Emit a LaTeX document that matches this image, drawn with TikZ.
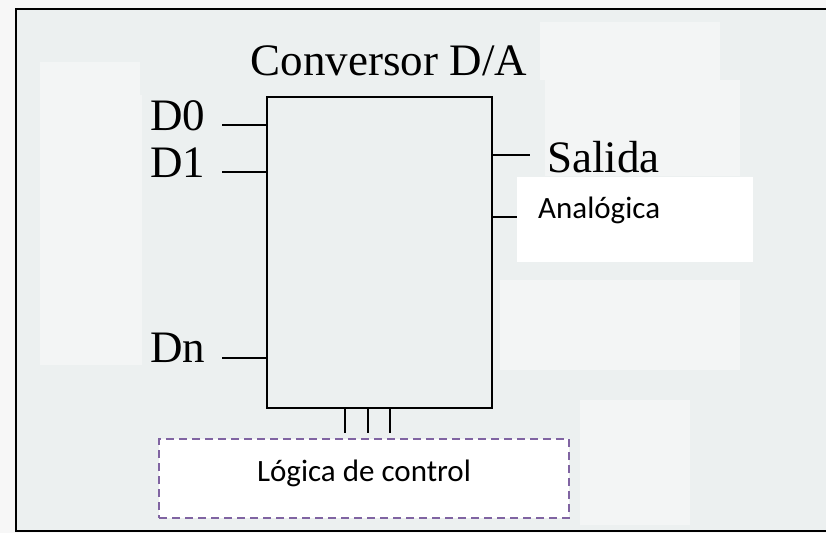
\documentclass[tikz,border=0pt]{standalone}
\usepackage{fontspec}
\setmainfont{Liberation Serif}
\newfontfamily\calibri{Carlito}
\usetikzlibrary{positioning}
\definecolor{bgdots}{HTML}{ECF0F0}
\definecolor{patch}{HTML}{F3F5F5}
\definecolor{dashpurple}{HTML}{8064A2}

\begin{document}
\begin{tikzpicture}[x=1pt, y=-1pt,
  wire/.style = {draw, line width=2.2pt},
  lbl/.style = {font=\fontsize{45}{47}\selectfont, inner sep=0pt},
  note/.style = {font=\calibri\fontsize{31}{34}\selectfont, inner sep=0pt}]
\useasboundingbox (0,0) rectangle (826,533);
\fill[gray!6] (0,0) rectangle (826,533);
% frame and the lighter patches of the scan
\draw[line width=2.2pt, fill=bgdots] (16,9) rectangle (840,531);
\fill[patch] (40,62) rectangle (140,95);
\fill[patch] (40,95) rectangle (142,365);
\fill[patch] (540,22) rectangle (720,80);
\fill[patch] (545,80) rectangle (740,176);
\fill[patch] (500,280) rectangle (740,370);
\fill[patch] (580,400) rectangle (690,525);

% converter block
\node[wire, fill=bgdots, minimum width=225pt, minimum height=311pt, inner sep=0pt] (dac) at (379.5,252.5) {};
\node[lbl, anchor=base] (title) at (389,75) {Conversor D/A};

% digital inputs
\node[lbl, anchor=base west] (d0) at (150,130) {D0};
\node[lbl, anchor=base west] (d1) at (150,177) {D1};
\node[lbl, anchor=base west] (dn) at (150,362) {Dn};
\coordinate (d0w) at (222,125);
\coordinate (d1w) at (222,172);
\coordinate (dnw) at (222,358);
\draw[wire] (d0w) -- (d0w -| dac.west);
\draw[wire] (d1w) -- (d1w -| dac.west);
\draw[wire] (dnw) -- (dnw -| dac.west);

% analog output
\coordinate (outa) at (530,155);
\node[lbl, anchor=base west] (salida) at (547,172) {Salida};
\draw[wire] (outa -| dac.east) -- (outa);
\node[fill=white, minimum width=236pt, minimum height=85pt, inner sep=0pt, anchor=north west] (ana) at (517,177) {};
\node[note, anchor=base west] (analog) at (538,218) {Analógica};
\coordinate (outb) at (517,217);
\draw[wire] (outb -| dac.east) -- (outb);

% control logic
\node[draw=dashpurple, dashed, dash pattern=on 8pt off 5pt, line width=1.6pt, fill=white,
      minimum width=410pt, minimum height=79pt] (ctrl) at (364,478.5) {};
\node[note, anchor=base] (ctrltxt) at (364,481) {Lógica de control};
\foreach \x in {345,368,390}
  \draw[wire] (dac.south -| \x,0) -- (\x,433);
\end{tikzpicture}
\end{document}
